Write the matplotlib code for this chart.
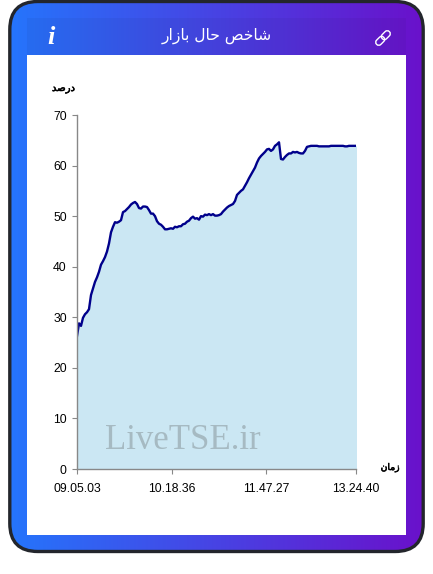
import matplotlib
matplotlib.use("Agg")
import matplotlib.pyplot as plt
import matplotlib.patheffects as pe
from matplotlib.colors import LinearSegmentedColormap
from matplotlib.patches import FancyBboxPatch, Rectangle
import matplotlib.transforms as mtrans
import numpy as np

W = 433
H = 574

# percent, one reading every 2 px along the axis
values = [26.3, 28.8, 28.3, 29.9, 30.6, 31.0, 31.6, 34.4, 35.7, 37.0,
          37.9, 39.0, 40.4, 41.1, 41.9, 43.0, 44.6, 46.8, 47.9, 48.8,
          48.7, 48.9, 49.2, 50.8, 51.0, 51.4, 51.8, 52.3, 52.6, 52.8,
          52.4, 51.6, 51.5, 51.9, 51.9, 51.8, 51.2, 50.5, 50.5, 50.0,
          49.0, 48.5, 48.3, 47.9, 47.4, 47.4, 47.5, 47.6, 47.5, 47.9,
          47.8, 48.0, 48.0, 48.4, 48.5, 48.9, 49.1, 49.6, 49.9, 49.5,
          49.6, 49.3, 50.0, 49.9, 50.3, 50.2, 50.4, 50.2, 50.4, 50.1,
          50.1, 50.2, 50.4, 50.9, 51.3, 51.7, 52.0, 52.2, 52.4, 53.0,
          54.2, 54.6, 55.0, 55.3, 56.0, 56.7, 57.5, 58.2, 58.9, 59.6,
          60.6, 61.4, 61.9, 62.3, 62.7, 63.2, 63.3, 62.9, 63.2, 63.9,
          64.2, 64.6, 61.3, 61.2, 61.7, 62.1, 62.4, 62.4, 62.7, 62.6,
          62.7, 62.5, 62.4, 62.4, 62.9, 63.7, 63.8, 63.9, 63.9, 63.9,
          63.9, 63.8, 63.8, 63.8, 63.8, 63.8, 63.8, 63.9, 63.9, 63.9,
          63.9, 63.9, 63.9, 63.9, 63.8, 63.8, 63.9, 63.9, 63.9, 63.9,
          63.9]
tick_pos = [0, 47.25, 94.5, 139.5]
tick_labels = ["09.05.03", "10.18.36", "11.47.27", "13.24.40"]
y_ticks = [0, 10, 20, 30, 40, 50, 60, 70]

# matplotlib does not shape arabic, so presentation forms in visual order
title_txt = "\uFEAD\uFE8D\uFEAF\uFE8E\uFE91 \uFEDD\uFE8E\uFEA3 \uFEBA\uFEA7\uFE8E\uFEB7"
ylabel_txt = "\uFEAA\uFEBB\uFEAD\uFEA9"
xlabel_txt = "\uFEE5\uFE8E\uFEE3\uFEAF"

fig = plt.figure(figsize=(W / 100, H / 100), dpi=100)

# card behind everything, coordinates in pixels
bg = fig.add_axes([0, 0, 1, 1])
bg.axis("off")

cmap = LinearSegmentedColormap.from_list("card", ["#2575fc", "#6a11cb"])
grad = np.linspace(0, 1, 256).reshape(1, -1)
im = bg.imshow(grad, cmap=cmap, extent=[9, 424, 552, 1], aspect="auto", zorder=1)
bg.set_xlim(0, W)
bg.set_ylim(H, 0)
box = FancyBboxPatch((9.8, 1.5), 413.4, 550, boxstyle="round,pad=0,rounding_size=28",
                     fc="none", ec="#23262c", lw=2.4, zorder=3)
bg.add_patch(box)
im.set_clip_path(box)
bg.add_patch(Rectangle((27, 18), 379, 37, fc="black", alpha=0.04, ec="none", zorder=2))
bg.add_patch(Rectangle((27, 55), 379, 480, fc="white", ec="none", zorder=2))

bg.text(217, 35.5, title_txt, color="white", fontsize=11.2, ha="center", va="center",
        family="DejaVu Sans", zorder=4)
bg.text(51, 37, "i", color="white", fontsize=19, ha="center", va="center",
        family="Liberation Serif", style="italic", weight="bold", zorder=4)

# link icon, two rounded links on a diagonal
rot = mtrans.Affine2D().rotate_deg_around(383, 38, -45) + bg.transData
for cx in [379, 387]:
    link = FancyBboxPatch((cx - 5, 35), 10, 6, boxstyle="round,pad=0,rounding_size=3",
                          fc="none", ec="white", lw=1.0, zorder=4, transform=rot)
    bg.add_patch(link)

stroke = [pe.withStroke(linewidth=0.4, foreground="black")]
bg.text(63.5, 88, ylabel_txt, color="black", fontsize=7.2, ha="center", va="center",
        family="DejaVu Sans", zorder=4, path_effects=stroke)
bg.text(390, 467.5, xlabel_txt, color="black", fontsize=6.6, ha="center", va="center",
        family="DejaVu Sans", zorder=4, path_effects=stroke)

# chart
ax = fig.add_axes([77 / W, 1 - 469 / H, 279 / W, 354 / H])
ax.patch.set_alpha(0)
x = np.arange(len(values))
ax.fill_between(x, values, 0, color="#cbe7f3", lw=0)
ax.plot(x, values, color="#00008b", lw=1.7)
ax.set_xlim(0, 139.5)
ax.set_ylim(0, 70)
ax.set_xticks(tick_pos)
ax.set_xticklabels(tick_labels)
ax.set_yticks(y_ticks)

for name in ["top", "right"]:
    ax.spines[name].set_visible(False)
for name in ["left", "bottom"]:
    ax.spines[name].set_color("#888888")
    ax.spines[name].set_linewidth(1.0)
ax.tick_params(colors="#888888", length=3.6, width=0.8, labelcolor="black", labelsize=8.8)
ax.tick_params(axis="x", pad=6.5)
ax.tick_params(axis="y", pad=3.8)
for lab in ax.get_xticklabels() + ax.get_yticklabels():
    lab.set_family("Liberation Sans")

ax.text(0.38, 0.08, "LiveTSE.ir", transform=ax.transAxes, ha="center", va="center",
        family="Liberation Serif", fontsize=25, color="#a6bac2")

fig.savefig("out.png", dpi=100)
